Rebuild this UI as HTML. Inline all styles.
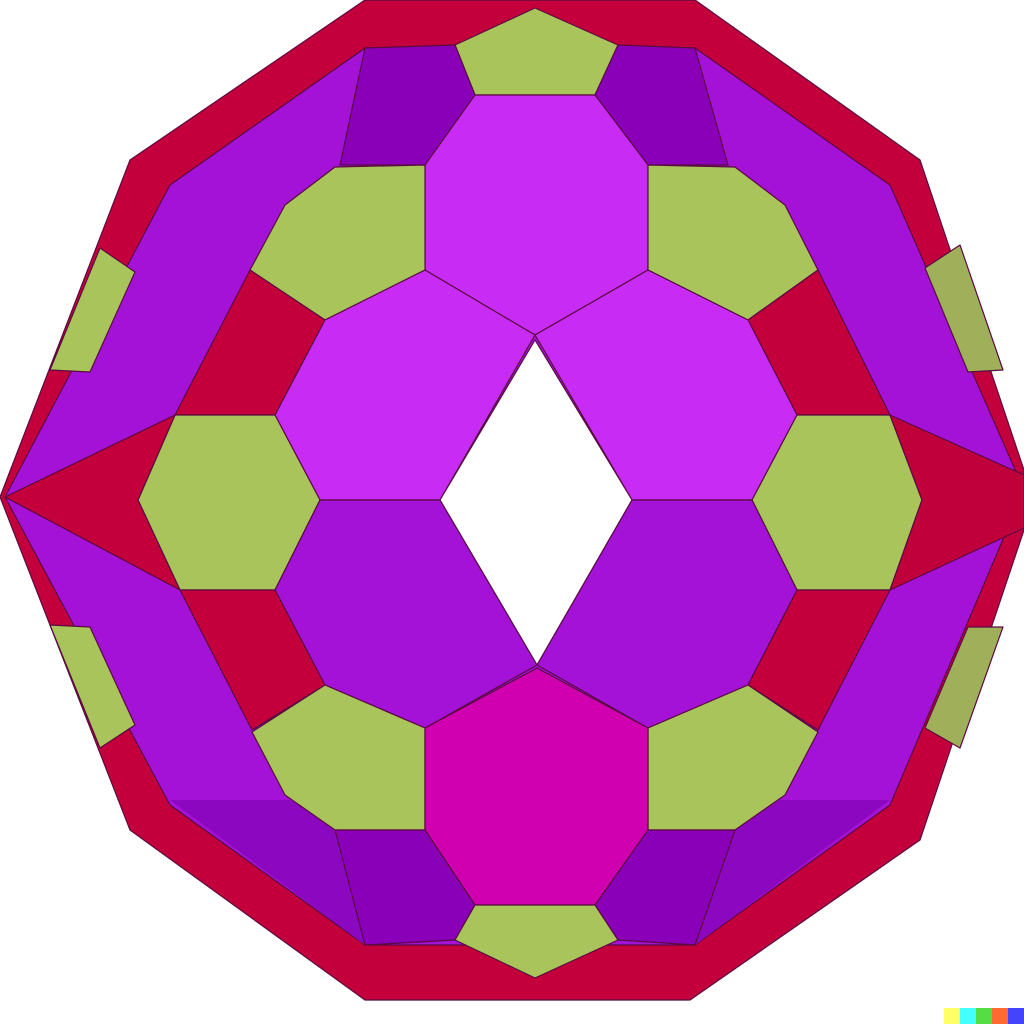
<!DOCTYPE html>
<html><head><meta charset="utf-8"><style>html,body{margin:0;padding:0;background:#fff}svg{display:block}</style></head>
<body>
<svg width="1024" height="1024" viewBox="0 0 1024 1024">
<g stroke="#5a0a40" stroke-width="1.2" stroke-linejoin="round">
<polygon fill="#c4003c" points="365,0 695,0 920,160 1024,470 1024,530 920,840 690,1000 365,1000 130,830 0,497 130,160"/>
<polygon fill="#a412d8" points="365,48 695,48 890,185 1024,490 890,805 695,945 365,945 170,805 5,497 170,185"/>
<polygon fill="#8c08c0" stroke="none" points="170,800 290,800 340,830 365,945"/>
<polygon fill="#8c08c0" stroke="none" points="890,800 780,800 730,830 695,945"/>
<polygon fill="#a8c45a" points="455,45 535,8 618,45 595,95 475,95"/>
<polygon fill="#8a00b8" points="365,48 455,45 475,95 425,165 340,165"/>
<polygon fill="#8a00b8" points="618,45 695,48 728,165 648,165 595,95"/>
<polygon fill="#c82cf4" points="475,95 595,95 648,165 648,270 535,335 425,270 425,165"/>
<polygon fill="#a8c45a" points="285,205 335,167 425,165 425,270 325,320 250,270"/>
<polygon fill="#a8c45a" points="785,205 735,167 648,165 648,270 748,320 818,270"/>
<polygon fill="#c4003c" points="250,270 325,320 275,415 175,415"/>
<polygon fill="#c4003c" points="818,270 748,320 797,415 890,415"/>
<polygon fill="#c82cf4" points="325,320 425,270 535,335 440,500 320,500 275,415"/>
<polygon fill="#c82cf4" points="748,320 648,270 535,335 632,500 752,500 797,415"/>
<polygon fill="#ffffff" points="535,340 632,500 537,665 440,500"/>
<polygon fill="#a8c45a" points="175,415 275,415 320,500 275,590 180,590 138,500"/>
<polygon fill="#a8c45a" points="890,415 797,415 752,500 797,590 890,590 922,500"/>
<polygon fill="#c4003c" points="5,497 175,415 138,500 180,590"/>
<polygon fill="#c0003a" points="1024,475 890,415 922,500 890,590 1024,528"/>
<polygon fill="#a412d8" points="320,500 440,500 537,665 425,728 325,685 275,590"/>
<polygon fill="#a412d8" points="752,500 632,500 537,665 648,728 748,685 797,590"/>
<polygon fill="#c4003c" points="180,590 275,590 325,685 252,730"/>
<polygon fill="#c4003c" points="890,590 797,590 748,685 818,730"/>
<polygon fill="#a8c45a" points="252,732 325,685 425,728 425,830 335,830 285,795"/>
<polygon fill="#a8c45a" points="818,732 748,685 648,728 648,830 735,830 785,795"/>
<polygon fill="#d000b0" points="425,728 537,668 648,728 648,830 595,905 475,905 425,830"/>
<polygon fill="#8a00b8" points="335,830 425,830 475,905 455,940 365,945"/>
<polygon fill="#8a00b8" points="735,830 648,830 595,905 618,940 695,945"/>
<polygon fill="#a8c45a" points="475,905 595,905 618,940 535,978 455,940"/>
<polygon fill="#a8c45a" points="100,248 135,272 90,372 50,370"/>
<polygon fill="#a8c45a" points="50,625 90,627 135,725 100,748"/>
<polygon fill="#a0b05a" points="960,245 1003,370 968,372 925,268"/>
<polygon fill="#a0b05a" points="968,627 1003,627 960,748 925,728"/>
</g>
<g>
<rect x="944" y="1008" width="16" height="16" fill="#ffff66"/>
<rect x="960" y="1008" width="16" height="16" fill="#44ffff"/>
<rect x="976" y="1008" width="16" height="16" fill="#55dd44"/>
<rect x="992" y="1008" width="16" height="16" fill="#ff6a33"/>
<rect x="1008" y="1008" width="16" height="16" fill="#4444ff"/>
</g>
</svg>
</body></html>
